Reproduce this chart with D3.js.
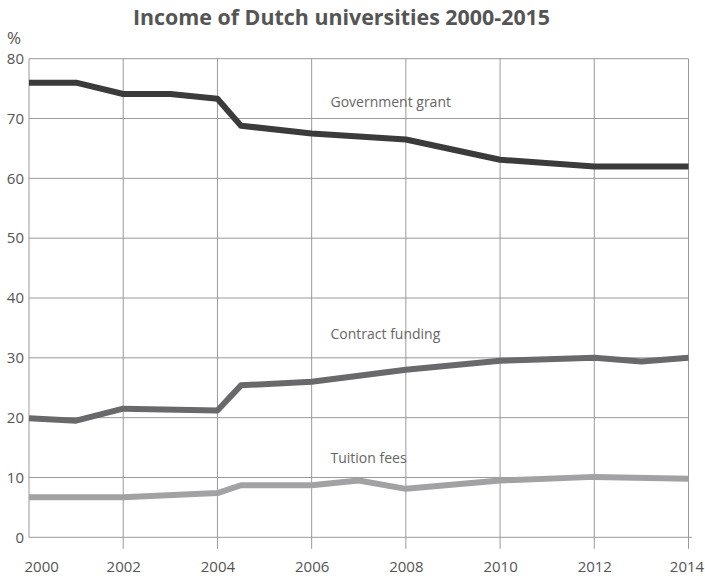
<!DOCTYPE html>
<html>
<head>
<meta charset="utf-8">
<script src="https://cdn.jsdelivr.net/npm/d3@7"></script>
<style>
  html, body { margin: 0; padding: 0; background: #fff; }
  svg { display: block; font-family: "Open Sans", "Noto Sans", sans-serif; }
</style>
</head>
<body>
<svg id="chart" width="705" height="577"></svg>
<script>
// ---- data ----
const title = "Income of Dutch universities 2000-2015";
const yearTicks = [2000, 2002, 2004, 2006, 2008, 2010, 2012, 2014];
const valueTicks = [0, 10, 20, 30, 40, 50, 60, 70, 80];
const seriesNames = ["Government grant", "Contract funding", "Tuition fees"];

const governmentYears = [2000, 2001, 2002, 2003, 2004, 2004.5, 2006, 2008, 2010, 2012, 2013, 2014];
const governmentValues = [76.0, 76.0, 74.1, 74.1, 73.3, 68.8, 67.5, 66.5, 63.1, 62.0, 62.0, 62.0];

const contractYears = [2000, 2001, 2002, 2004, 2004.5, 2006, 2007, 2008, 2010, 2012, 2013, 2014];
const contractValues = [19.9, 19.5, 21.5, 21.2, 25.4, 26.0, 27.0, 28.0, 29.5, 30.0, 29.4, 30.0];

const tuitionYears = [2000, 2002, 2004, 2004.5, 2006, 2007, 2008, 2010, 2012, 2014];
const tuitionValues = [6.7, 6.7, 7.4, 8.7, 8.7, 9.5, 8.1, 9.5, 10.1, 9.8];

// ---- layout ----
const svg = d3.select("#chart");
const mLeft = 29, mRight = 688.5, mTop = 58.7, mBottom = 537.3;

const x = d3.scaleLinear().domain([2000, 2014]).range([mLeft, mRight]);
const y = d3.scaleLinear().domain([0, 80]).range([mBottom, mTop]);

const gridColor = "#9a9a9a";
const textColor = "#555";

// horizontal gridlines
svg.append("g")
  .selectAll("line")
  .data(valueTicks)
  .join("line")
  .attr("x1", mLeft)
  .attr("x2", d => d === 0 ? mRight + 3.5 : mRight)
  .attr("y1", d => y(d)).attr("y2", d => y(d))
  .attr("stroke", gridColor)
  .attr("stroke-width", 1);

// vertical gridlines (extend below axis as ticks)
svg.append("g")
  .selectAll("line")
  .data(yearTicks)
  .join("line")
  .attr("x1", d => x(d)).attr("x2", d => x(d))
  .attr("y1", mTop)
  .attr("y2", d => d === 2000 ? mBottom : mBottom + 11.5)
  .attr("stroke", gridColor)
  .attr("stroke-width", 1);

// y axis labels
const yAxis = d3.axisLeft(y).tickValues(valueTicks).tickSize(0).tickPadding(5);
const yg = svg.append("g").attr("transform", `translate(${mLeft},0)`).call(yAxis);
yg.select(".domain").remove();
yg.selectAll("text")
  .attr("fill", textColor)
  .style("font-size", "15px")
  .style("font-family", "'Open Sans', sans-serif");

// x axis labels
const xAxis = d3.axisBottom(x).tickValues(yearTicks).tickFormat(d3.format("d")).tickSize(0).tickPadding(24.5);
const xg = svg.append("g").attr("transform", `translate(0,${mBottom})`).call(xAxis);
xg.select(".domain").remove();
xg.selectAll("text")
  .attr("fill", textColor)
  .style("font-size", "15px")
  .style("font-family", "'Open Sans', sans-serif");
xg.selectAll(".tick").filter(d => d === 2000).select("text")
  .attr("text-anchor", "start").attr("x", -5);
xg.selectAll(".tick").filter(d => d === 2014).select("text")
  .attr("text-anchor", "middle").attr("x", -2);

// % unit
svg.append("text")
  .attr("x", 7).attr("y", 43.5)
  .attr("fill", textColor)
  .style("font-size", "17px")
  .text("%");

// title
svg.append("text")
  .attr("x", 341.5).attr("y", 25)
  .attr("text-anchor", "middle")
  .attr("fill", "#555")
  .style("font-size", "21.4px")
  .style("font-weight", "bold")
  .text(title);

// lines
const series = [
  { name: seriesNames[0], xs: governmentYears, vs: governmentValues, color: "#3b3b3b", labelValue: 71.9 },
  { name: seriesNames[1], xs: contractYears, vs: contractValues, color: "#69696c", labelValue: 33.2 },
  { name: seriesNames[2], xs: tuitionYears, vs: tuitionValues, color: "#a2a2a4", labelValue: 12.4 }
];

const line = d3.line().x(d => x(d[0])).y(d => y(d[1]));

series.forEach(s => {
  const pts = s.xs.map((yr, i) => [yr, s.vs[i]]);
  svg.append("path")
    .datum(pts)
    .attr("d", line)
    .attr("fill", "none")
    .attr("stroke", s.color)
    .attr("stroke-width", 6)
    .attr("stroke-linejoin", "round");
  svg.append("text")
    .attr("x", x(2006.4))
    .attr("y", y(s.labelValue))
    .attr("fill", "#666")
    .style("font-size", "14px")
    .text(s.name);
});
</script>
</body>
</html>
